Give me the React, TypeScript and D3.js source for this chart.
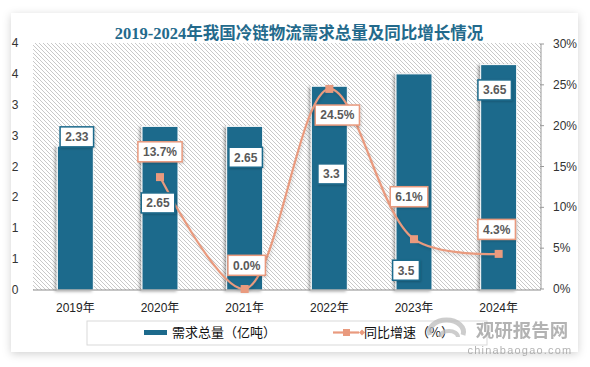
import React from "react";
import * as d3 from "d3";

const years = ["2019年", "2020年", "2021年", "2022年", "2023年", "2024年"];
const demand = [2.33, 2.65, 2.65, 3.3, 3.5, 3.65];
const growth: (number | null)[] = [null, 13.7, 0.0, 24.5, 6.1, 4.3];
const leftTicks = [0, 0.5, 1, 1.5, 2, 2.5, 3, 3.5, 4];
const rightTicks = [0, 5, 10, 15, 20, 25, 30];
const title = "2019-2024年我国冷链物流需求总量及同比增长情况";
const legendBar = "需求总量（亿吨）";
const legendLine = "同比增速（%）";

// hand-placed label anchors (in axis units) as in the original
const barLabelAt = [2.48, 1.41, 2.15, 1.88, 0.32, 3.24];
const barLabelDx = [1.5, -2, 1, 2, -8, -4];
const rateLabelAt: (number | null)[] = [null, 16.8, 2.9, 21.3, 11.3, 7.3];
const rateLabelDx = [0, 0, 2, 8, -5, -2];

const W = 590, H = 367;
const plot = { left: 33, right: 541, top: 43, bottom: 290 };
const BLUE = "#1D6A8C";
const SALMON = "#E99A7E";

function textW(s: string) {
  let w = 0;
  for (const c of s) w += c === "." ? 3.4 : c === "%" ? 10.7 : 6.7;
  return w;
}

function LabelBox({ x, y, text, stroke }: { x: number; y: number; text: string; stroke: string }) {
  const w = textW(text) + 10;
  const h = 20;
  return (
    <g>
      <rect x={x - w / 2} y={y - h / 2} width={w} height={h} fill="#fff" stroke={stroke} strokeWidth={1.5} filter="url(#lblShadow)" />
      <text x={x} y={y + 4.3} textAnchor="middle" fontSize={12} fontWeight="bold" fill="#595959" fontFamily="'Liberation Sans', Arial, sans-serif">
        {text}
      </text>
    </g>
  );
}

export default function App() {
  const x = d3.scaleBand<string>().domain(years).range([plot.left, plot.right]).paddingInner(0.575).paddingOuter(0.2875);
  const yL = d3.scaleLinear().domain([0, 4]).range([plot.bottom, plot.top]);
  const yR = d3.scaleLinear().domain([0, 30]).range([plot.bottom - 1, plot.top + 1]);
  const cx = (i: number) => (x(years[i]) as number) + x.bandwidth() / 2;

  const pts = growth
    .map((g, i) => (g == null ? null : ([cx(i), yR(g)] as [number, number])))
    .filter((p): p is [number, number] => p !== null);
  const lineGen = d3.line<[number, number]>().curve(d3.curveCatmullRom.alpha(0.5));
  const path = lineGen(pts) || "";

  const fmtL = (v: number) => String(Math.round(v + 1e-9));
  const sans = "'Liberation Sans', 'Noto Sans CJK SC', sans-serif";

  return (
    <div style={{ position: "absolute", left: 0, top: 0 }}>
      <svg width={W} height={H} viewBox={`0 0 ${W} ${H}`}>
        <defs>
          <pattern id="hatch" patternUnits="userSpaceOnUse" width={4} height={4}>
            <path d="M0,0 L4,4 M-1,3 L1,5 M3,-1 L5,1" stroke="#c2c2c2" strokeWidth={0.9} />
          </pattern>
          <filter id="cardShadow" x="-10%" y="-10%" width="120%" height="120%">
            <feDropShadow dx={0} dy={2} stdDeviation={4} floodColor="#000" floodOpacity={0.18} />
          </filter>
          <filter id="barShadow" x="-30%" y="-10%" width="160%" height="120%">
            <feDropShadow dx={-2} dy={1} stdDeviation={1.5} floodColor="#000" floodOpacity={0.35} />
          </filter>
          <filter id="lblShadow" x="-20%" y="-30%" width="140%" height="160%">
            <feDropShadow dx={1} dy={1} stdDeviation={1} floodColor="#000" floodOpacity={0.2} />
          </filter>
          <filter id="lineShadow" x="-10%" y="-10%" width="120%" height="120%">
            <feDropShadow dx={1} dy={2} stdDeviation={1.5} floodColor="#000" floodOpacity={0.15} />
          </filter>
        </defs>

        <rect x={0} y={0} width={W} height={H} fill="#fff" />
        <rect x={11} y={13} width={567} height={339} fill="#fff" filter="url(#cardShadow)" />

        <text x={299} y={39} textAnchor="middle" fontSize={16.5} fontWeight="bold" fill="#236A8C" fontFamily="'Liberation Serif', 'Noto Sans CJK SC', serif">
          {title}
        </text>

        {/* plot background */}
        <rect x={plot.left} y={plot.top} width={plot.right - plot.left} height={plot.bottom - plot.top} fill="url(#hatch)" />

        {/* left axis labels */}
        {leftTicks.map((t) => (
          <text key={t} x={15} y={yL(t) + 4} textAnchor="middle" fontSize={12} fill="#333" fontFamily={sans}>
            {fmtL(t)}
          </text>
        ))}

        {/* right axis */}
        <line x1={plot.right} x2={plot.right} y1={yR(30)} y2={yR(0)} stroke="#999" strokeWidth={1} />
        {rightTicks.map((t) => (
          <g key={t}>
            <line x1={plot.right - 1} x2={plot.right + 3} y1={yR(t)} y2={yR(t)} stroke="#999" />
            <text x={553} y={yR(t) + 4} fontSize={12} fill="#333" fontFamily={sans}>
              {t}%
            </text>
          </g>
        ))}

        {/* bars */}
        {demand.map((v, i) => (
          <rect
            key={i}
            x={x(years[i])}
            y={yL(v)}
            width={x.bandwidth()}
            height={yL(0) - yL(v)}
            fill={BLUE}
            stroke="#fff"
            strokeWidth={1}
            filter="url(#barShadow)"
          />
        ))}

        {/* baseline */}
        <line x1={plot.left} x2={plot.right} y1={plot.bottom} y2={plot.bottom} stroke="#8c8c8c" strokeWidth={1.2} />

        {/* x labels */}
        {years.map((yr, i) => (
          <text key={yr} x={cx(i)} y={312} textAnchor="middle" fontSize={12} fill="#222" fontFamily={sans}>
            {yr}
          </text>
        ))}

        {/* line */}
        <path d={path} fill="none" stroke={SALMON} strokeWidth={2.2} filter="url(#lineShadow)" />
        {pts.map((p, i) => (
          <rect key={i} x={p[0] - 4} y={p[1] - 4} width={8} height={8} fill={SALMON} />
        ))}

        {/* bar labels */}
        {demand.map((v, i) => (
          <LabelBox key={"b" + i} x={cx(i) + barLabelDx[i]} y={yL(barLabelAt[i])} text={String(v)} stroke={BLUE} />
        ))}
        {/* rate labels */}
        {growth.map((g, i) =>
          g == null || rateLabelAt[i] == null ? null : (
            <LabelBox key={"r" + i} x={cx(i) + rateLabelDx[i]} y={yR(rateLabelAt[i] as number)} text={g.toFixed(1) + "%"} stroke={SALMON} />
          )
        )}

        {/* legend */}
        <rect x={87} y={321} width={400} height={24} fill="#fff" stroke="#d9d9d9" strokeWidth={1} />
        <rect x={144} y={330} width={23} height={5} fill={BLUE} />
        <text x={172} y={337} fontSize={13} fill="#111" fontFamily="'Noto Sans CJK SC', sans-serif">
          {legendBar}
        </text>
        <line x1={333} x2={359} y1={332.5} y2={332.5} stroke={SALMON} strokeWidth={2.2} />
        <rect x={343} y={329} width={7} height={7} fill={SALMON} />
        <path d="M359,332.5 l3,-3 l3,3 l-3,3 z" fill={SALMON} />
        <text x={364} y={337} fontSize={13} fill="#111" fontFamily="'Noto Sans CJK SC', sans-serif">
          {legendLine}
        </text>

        {/* watermark */}
        <g opacity={0.75}>
          <path d="M430,335 a17,12 0 1 1 33,0" fill="none" stroke="#bdbdbd" strokeWidth={5} />
          <path d="M440,337 a9,6 0 1 1 18,0" fill="none" stroke="#bdbdbd" strokeWidth={4} />
          <text x={522} y={337} textAnchor="middle" fontSize={18.5} fontWeight="bold" fill="#9a9a9a" fontFamily="'Noto Sans CJK SC', sans-serif">
            观研报告网
          </text>
          <text x={520} y={353.5} textAnchor="middle" fontSize={11} fill="#9a9a9a" letterSpacing={1.2} fontFamily="'Liberation Sans', sans-serif">
            chinabaogao.com
          </text>
        </g>
      </svg>
    </div>
  );
}
